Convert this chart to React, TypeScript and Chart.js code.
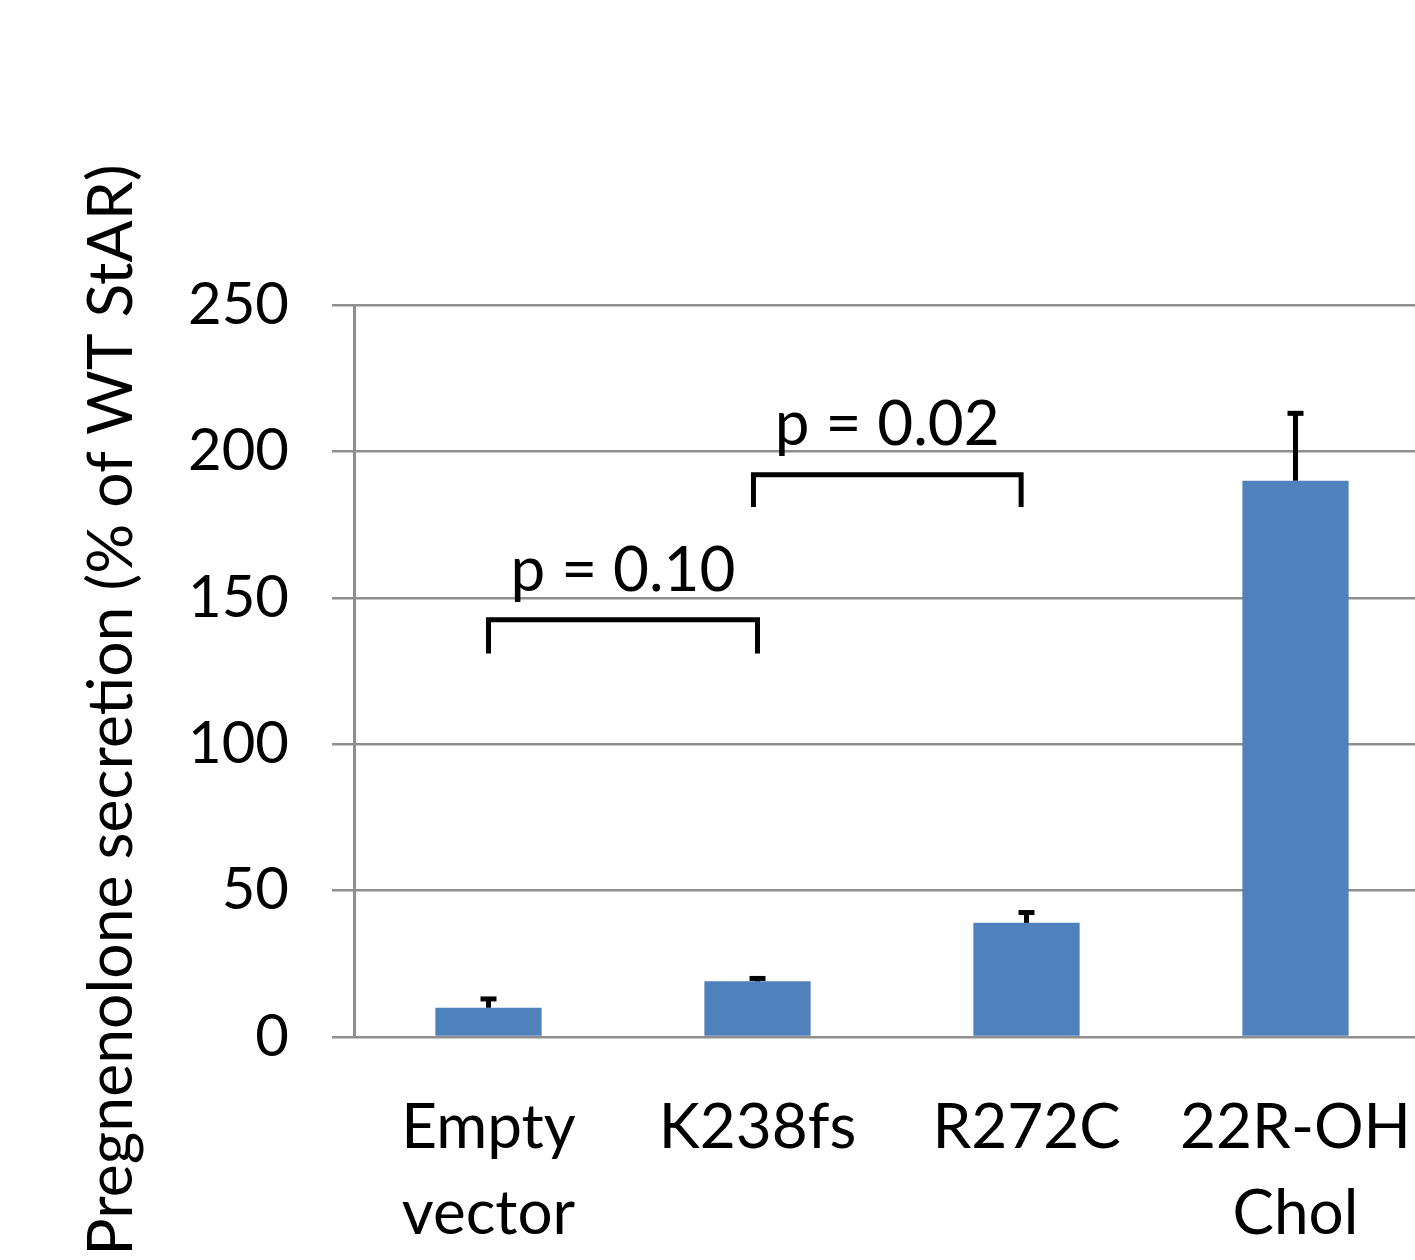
import React, { useEffect, useRef } from "react";
import { Chart, registerables } from "chart.js";

Chart.register(...registerables);

const categories: (string | string[])[] = [["Empty", "vector"], "K238fs", "R272C", ["22R-OH", "Chol"]];
const values = [10, 19, 39, 190];
const errors = [3, 1, 3.5, 23];
const yMin = 0;
const yMax = 250;
const yStep = 50;
const yTitle = "Pregnenolone secretion (% of WT StAR)";

// significance brackets (category index space / value space)
const bracketFrom = [0, 0.985];
const bracketTo = [1, 1.98];
const bracketTop = [142.5, 192];
const bracketFoot = [131, 181];
const bracketLabel = ["p = 0.10", "p = 0.02"];
const bracketLabelY = [152.3, 202.2];

const FONT = "Lato, 'Open Sans', sans-serif";

const overlay = {
  id: "overlay",
  afterDatasetsDraw(chart: any) {
    const ctx = chart.ctx;
    const x = chart.scales.x;
    const y = chart.scales.y;
    const meta = chart.getDatasetMeta(0);
    ctx.save();
    ctx.strokeStyle = "#000";
    ctx.lineCap = "butt";
    // error bars (upper only)
    values.forEach((v, i) => {
      const bar = meta.data[i];
      const cx = bar.x;
      const y0 = y.getPixelForValue(v);
      const y1 = y.getPixelForValue(v + errors[i]);
      ctx.lineWidth = 5;
      ctx.beginPath();
      ctx.moveTo(cx, y0);
      ctx.lineTo(cx, y1);
      ctx.stroke();
      ctx.beginPath();
      ctx.moveTo(cx - 8, y1);
      ctx.lineTo(cx + 8, y1);
      ctx.stroke();
    });
    // brackets
    ctx.lineWidth = 5;
    ctx.lineJoin = "miter";
    bracketFrom.forEach((f, i) => {
      const xa = x.getPixelForValue(f);
      const xb = x.getPixelForValue(bracketTo[i]);
      const yt = y.getPixelForValue(bracketTop[i]);
      const yf = y.getPixelForValue(bracketFoot[i]);
      ctx.beginPath();
      ctx.moveTo(xa, yf);
      ctx.lineTo(xa, yt);
      ctx.lineTo(xb, yt);
      ctx.lineTo(xb, yf);
      ctx.stroke();
      ctx.fillStyle = "#000";
      ctx.font = `62px ${FONT}`;
      ctx.textAlign = "center";
      ctx.textBaseline = "alphabetic";
      ctx.fillText(bracketLabel[i], (xa + xb) / 2, y.getPixelForValue(bracketLabelY[i]));
    });
    // y axis title
    ctx.translate(132, 710);
    ctx.rotate(-Math.PI / 2);
    ctx.fillStyle = "#000";
    ctx.font = `62.5px ${FONT}`;
    ctx.textAlign = "center";
    ctx.textBaseline = "alphabetic";
    ctx.fillText(yTitle, 0, 0);
    ctx.restore();
  },
};

export default function App() {
  const ref = useRef<HTMLCanvasElement | null>(null);
  useEffect(() => {
    if (!ref.current) return;
    const chart = new Chart(ref.current, {
      type: "bar",
      data: {
        labels: categories as any,
        datasets: [
          {
            data: values,
            backgroundColor: "#4F81BD",
            borderWidth: 0,
            barPercentage: 0.395,
            categoryPercentage: 1,
          },
        ],
      },
      options: {
        responsive: false,
        animation: false,
        layout: { padding: { top: 305, right: 0, left: 0, bottom: 0 } },
        plugins: { legend: { display: false }, tooltip: { enabled: false }, title: { display: false } },
        scales: {
          x: {
            offset: true,
            grid: { display: false, drawTicks: false },
            border: { display: false },
            ticks: {
              color: "#000",
              font: { family: FONT, size: 62, lineHeight: 1.39 },
              padding: 48,
              maxRotation: 0,
              autoSkip: false,
            },
            afterFit(scale: any) {
              scale.height = 223;
              scale.paddingLeft = 0;
              scale.paddingRight = 0;
            },
          },
          y: {
            min: yMin,
            max: yMax,
            grid: { color: "#8f8f8f", lineWidth: 2.5, tickLength: 22, drawTicks: true },
            border: { display: true, color: "#8f8f8f", width: 3 },
            ticks: {
              stepSize: yStep,
              color: "#000",
              font: { family: FONT, size: 58 },
              padding: 43,
            },
            afterFit(scale: any) {
              scale.width = 354;
            },
          },
        },
      },
      plugins: [overlay],
    });
    return () => chart.destroy();
  }, []);
  return (
    <div
      style={{
        position: "fixed",
        left: 0,
        top: 0,
        width: 1415,
        height: 1260,
        overflow: "hidden",
        background: "#fff",
      }}
    >
      <canvas ref={ref} width={1430} height={1260} style={{ display: "block" }} />
    </div>
  );
}
